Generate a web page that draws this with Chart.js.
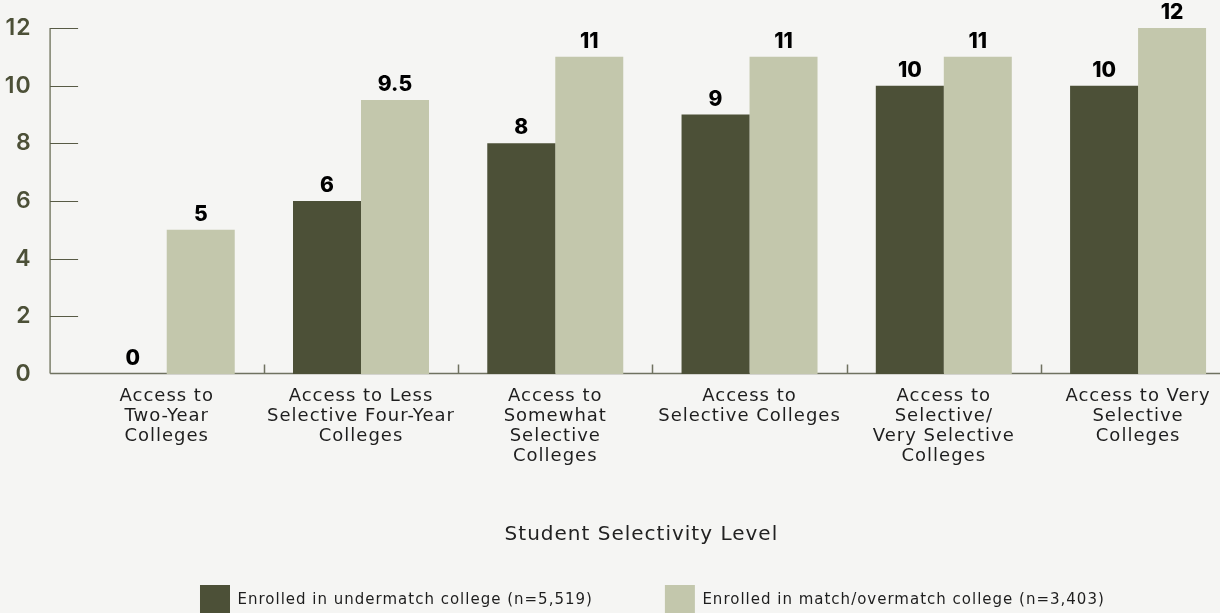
<!DOCTYPE html>
<html>
<head>
<meta charset="utf-8">
<title>Student Selectivity Level</title>
<script src="https://cdn.jsdelivr.net/npm/chart.js@4.4.1/dist/chart.umd.min.js"></script>
<style>
  html, body { margin: 0; padding: 0; background: #f5f5f3; overflow: hidden; }
  #wrap { width: 1240px; height: 625px; position: relative; }
</style>
</head>
<body>
<div id="wrap"><canvas id="chart"></canvas></div>
<script>
const categories = [
  ['Access to', 'Two-Year', 'Colleges'],
  ['Access to Less', 'Selective Four-Year', 'Colleges'],
  ['Access to', 'Somewhat', 'Selective', 'Colleges'],
  ['Access to', 'Selective Colleges'],
  ['Access to', 'Selective/', 'Very Selective', 'Colleges'],
  ['Access to Very', 'Selective', 'Colleges']
];
const undermatch = [0, 6, 8, 9, 10, 10];
const matchOvermatch = [5, 9.5, 11, 11, 11, 12];
const seriesNames = [
  'Enrolled in undermatch college (n=5,519)',
  'Enrolled in match/overmatch college (n=3,403)'
];
const yTicks = [0, 2, 4, 6, 8, 10, 12];
const axisTitle = 'Student Selectivity Level';

const DARK = '#4c5037';
const LIGHT = '#c3c7ac';
const TEXT_FONT = '"DejaVu Sans", sans-serif';
const NUM_FONT = 'Inter, "DejaVu Sans", sans-serif';

// a little tracking on every label, like the print version
const tracking = {
  id: 'tracking',
  beforeLayout(chart) { chart.ctx.letterSpacing = '1px'; },
  beforeDraw(chart) { chart.ctx.letterSpacing = '1px'; }
};

// axis line, inward tick marks, baseline and category separators
const axisFrame = {
  id: 'axisFrame',
  beforeDatasetsDraw(chart) {
    const { ctx, chartArea, scales: { x, y } } = chart;
    const axisX = chartArea.left - 19.5;
    const y0 = Math.round(y.getPixelForValue(0)) - 0.5;
    ctx.save();

    ctx.strokeStyle = '#7d806c';
    ctx.lineWidth = 1.5;
    ctx.beginPath();
    ctx.moveTo(axisX, y.getPixelForValue(yTicks[yTicks.length - 1]));
    ctx.lineTo(axisX, y0);
    ctx.stroke();

    ctx.strokeStyle = '#585b45';
    ctx.lineWidth = 1;
    ctx.beginPath();
    yTicks.forEach(v => {
      if (v === 0) return;
      const py = Math.round(y.getPixelForValue(v)) + 0.5;
      ctx.moveTo(axisX, py);
      ctx.lineTo(axisX + 28, py);
    });
    ctx.stroke();

    ctx.strokeStyle = '#6f7260';
    ctx.lineWidth = 1.5;
    ctx.beginPath();
    ctx.moveTo(axisX, y0);
    ctx.lineTo(chart.width, y0);
    for (let i = 0; i < categories.length - 1; i++) {
      const px = Math.round((x.getPixelForValue(i) + x.getPixelForValue(i + 1)) / 2) + 0.5;
      ctx.moveTo(px, y0);
      ctx.lineTo(px, y0 - 9);
    }
    ctx.stroke();
    ctx.restore();
  },
  afterDatasetsDraw(chart) {
    const { ctx, chartArea } = chart;
    ctx.save();
    ctx.letterSpacing = '0px';
    ctx.fillStyle = '#000';
    ctx.font = `800 21px ${NUM_FONT}`;
    ctx.textAlign = 'center';
    ctx.textBaseline = 'alphabetic';
    chart.data.datasets.forEach((ds, i) => {
      chart.getDatasetMeta(i).data.forEach((bar, j) => {
        ctx.fillText(String(ds.data[j]), bar.x, bar.y - 9);
      });
    });

    ctx.letterSpacing = '1px';
    ctx.fillStyle = '#222';
    ctx.font = `20px ${TEXT_FONT}`;
    ctx.fillText(axisTitle, (chartArea.left + chartArea.right) / 2 - 11, 540);
    ctx.restore();
  }
};

new Chart(document.getElementById('chart'), {
  type: 'bar',
  data: {
    labels: categories,
    datasets: [
      { label: seriesNames[0], data: undermatch, backgroundColor: DARK, borderWidth: 0 },
      { label: seriesNames[1], data: matchOvermatch, backgroundColor: LIGHT, borderWidth: 0 }
    ]
  },
  options: {
    responsive: true,
    maintainAspectRatio: false,
    animation: false,
    categoryPercentage: 0.7,
    barPercentage: 1,
    layout: { padding: { top: 28, right: 4.8, bottom: 0, left: 0 } },
    scales: {
      x: {
        grid: { display: false, drawTicks: false },
        border: { display: false },
        ticks: {
          color: '#1e1e1e',
          font: { family: TEXT_FONT, size: 18, lineHeight: 20 / 18 },
          padding: 12,
          maxRotation: 0,
          autoSkip: false
        },
        afterFit(scale) { scale.height = 139; }
      },
      y: {
        min: 0,
        max: 12,
        afterBuildTicks(scale) { scale.ticks = yTicks.map(v => ({ value: v })); },
        grid: { display: false, drawTicks: false },
        border: { display: false },
        ticks: { color: DARK, font: { family: NUM_FONT, size: 23, weight: 600 }, padding: 38 },
        afterFit(scale) {
          // the wide label gap should not push the plot down
          scale.width = 69.6;
          scale.paddingTop = 0;
          scale.paddingBottom = 0;
        }
      }
    },
    plugins: {
      legend: {
        position: 'bottom',
        fullSize: false,
        labels: {
          boxWidth: 30,
          boxHeight: 30,
          padding: 72,
          color: '#1e1e1e',
          font: { family: TEXT_FONT, size: 15 }
        }
      },
      tooltip: { enabled: false }
    }
  },
  plugins: [tracking, axisFrame]
});
</script>
</body>
</html>
